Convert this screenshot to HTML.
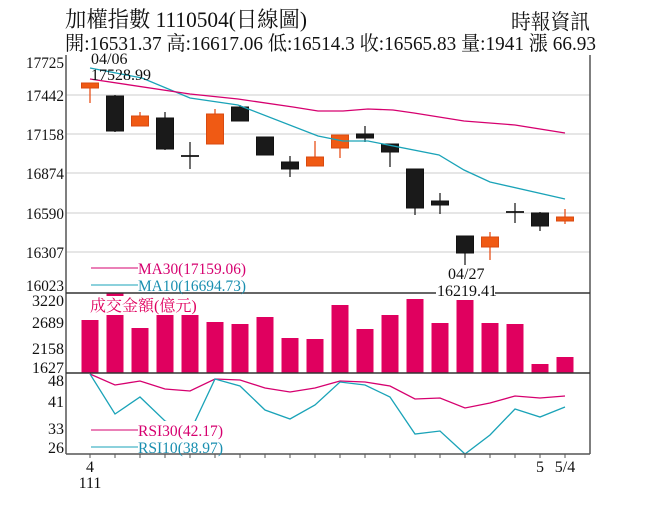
<!DOCTYPE html>
<html><head><meta charset="utf-8"><style>
html,body{margin:0;padding:0;background:#fff;width:656px;height:506px;overflow:hidden}
svg{display:block}
text{font-family:"Liberation Serif","Noto Serif CJK SC","Noto Sans CJK TC",serif}
</style></head><body>
<svg id="s" width="656" height="506" viewBox="0 0 656 506" xmlns="http://www.w3.org/2000/svg">
<rect width="656" height="506" fill="#fff"/>
<g stroke="#ddd" stroke-width="1.5">
<line x1="66" y1="95" x2="590" y2="95"/><line x1="66" y1="134" x2="590" y2="134"/>
<line x1="66" y1="173" x2="590" y2="173"/><line x1="66" y1="213" x2="590" y2="213"/>
<line x1="66" y1="252" x2="590" y2="252"/>
</g>
<g id="g"></g>
<g stroke="#555" stroke-width="1.5" fill="none">
<line x1="66" y1="55" x2="66" y2="454"/><line x1="590" y1="55" x2="590" y2="454"/>
<line x1="66" y1="293" x2="590" y2="293" stroke="#333"/>
<line x1="66" y1="373" x2="590" y2="373" stroke="#333"/>
<line x1="66" y1="454" x2="590" y2="454"/>
</g>
<g font-size="22" fill="#111">
<text x="65" y="27" textLength="242" lengthAdjust="spacingAndGlyphs">加權指數 1110504(日線圖)</text>
<text x="511" y="29" textLength="79" lengthAdjust="spacingAndGlyphs" font-size="21">時報資訊</text>
<text x="65" y="50" font-size="20" textLength="531" lengthAdjust="spacingAndGlyphs">開:16531.37 高:16617.06 低:16514.3 收:16565.83 量:1941 漲 66.93</text>
</g>
<g font-size="16" fill="#111" text-anchor="end">
<text x="64" y="68" textLength="38" lengthAdjust="spacingAndGlyphs">17725</text><text x="64" y="101" textLength="38" lengthAdjust="spacingAndGlyphs">17442</text><text x="64" y="140" textLength="38" lengthAdjust="spacingAndGlyphs">17158</text>
<text x="64" y="179" textLength="38" lengthAdjust="spacingAndGlyphs">16874</text><text x="64" y="219" textLength="38" lengthAdjust="spacingAndGlyphs">16590</text><text x="64" y="258" textLength="38" lengthAdjust="spacingAndGlyphs">16307</text>
<text x="64" y="291" textLength="38" lengthAdjust="spacingAndGlyphs">16023</text>
<text x="64" y="306">3220</text><text x="64" y="328">2689</text><text x="64" y="354">2158</text><text x="64" y="373">1627</text>
<text x="64" y="386">48</text><text x="64" y="407">41</text><text x="64" y="434">33</text><text x="64" y="453">26</text>
</g>
<g font-size="16" fill="#111">
<text x="91" y="64">04/06</text><text x="91" y="80">17528.99</text>
<text x="448" y="279">04/27</text>
<rect x="436" y="282" width="59" height="16" fill="#fff"/>
<text x="437" y="296">16219.41</text>
<text x="90" y="472" text-anchor="middle">4</text><text x="90" y="488" text-anchor="middle">111</text>
<text x="540" y="472" text-anchor="middle">5</text><text x="565" y="472" text-anchor="middle">5/4</text>
</g>
<rect x="137" y="259" width="110" height="33" fill="#fff"/>
<line x1="91" y1="268" x2="138" y2="268" stroke="#d6006f" stroke-width="1"/>
<line x1="91" y1="285" x2="138" y2="285" stroke="#1aa3b8" stroke-width="1"/>
<text x="138" y="274" font-size="16" fill="#d6006f" textLength="108" lengthAdjust="spacingAndGlyphs">MA30(17159.06)</text>
<text x="138" y="291" font-size="16" fill="#1a8fb0" textLength="108" lengthAdjust="spacingAndGlyphs">MA10(16694.73)</text>
<rect x="89" y="296" width="110" height="19" fill="#fff"/>
<text x="90" y="311" font-size="16" fill="#e0005f">成交金額(億元)</text>
<rect x="137" y="421" width="88" height="32" fill="#fff"/>
<line x1="91" y1="430" x2="138" y2="430" stroke="#d6006f" stroke-width="1"/>
<line x1="91" y1="447" x2="138" y2="447" stroke="#1aa3b8" stroke-width="1"/>
<text x="138" y="436" font-size="16" fill="#d6006f" textLength="85" lengthAdjust="spacingAndGlyphs">RSI30(42.17)</text>
<text x="138" y="453" font-size="16" fill="#1a8fb0" textLength="85" lengthAdjust="spacingAndGlyphs">RSI10(38.97)</text>
</svg>
<script>
var NS="http://www.w3.org/2000/svg",g=document.getElementById("g");
function el(t,a){var e=document.createElementNS(NS,t);for(var k in a)e.setAttribute(k,a[k]);g.appendChild(e);return e;}
var C=[["o",83,88,83,103],["b",96,131,95,132],["o",116,126,112,126],["b",118,149,112,150],["x",156,156,142,169],
["o",114,144,109,144],["b",107,121,105,121],["b",137,155,137,155],["b",162,169,156,177],["o",157,166,141,166],
["o",135,148,135,158],["b",134,138,126,142],["b",144,152,144,167],["b",169,208,169,215],["b",201,205,193,214],
["b",236,253,236,265],["o",237,247,232,260],["x",212,212,203,223],["b",213,226,212,231],["o",217,221,209,224]];
var V=[320,293,328,310,313,322,324,317,338,339,305,329,315,299,323,300,323,324,364,357];
V.forEach(function(t,i){var x=90+25*i;el("rect",{x:x-8.5,y:t,width:17,height:373-t,fill:"#e0005f"});});
C.forEach(function(c,i){var x=90+25*i;var col=c[0]=="o"?"#f05a14":"#1a1a1a";
el("line",{x1:x,y1:c[3],x2:x,y2:c[4],stroke:c[0]=="o"?"#e8501a":"#222","stroke-width":1.3});
if(c[0]=="x"){el("line",{x1:x-9,y1:c[1],x2:x+9,y2:c[1],stroke:"#111","stroke-width":1.8});}
else el("rect",{x:x-8.5,y:c[1],width:17,height:Math.max(c[2]-c[1],3),fill:col,stroke:c[0]=="o"?"#d84a10":"#111","stroke-width":1});});
function pl(p,col){el("polyline",{points:p,fill:"none",stroke:col,"stroke-width":1.3});}
pl("90,68 142,78 190,98 238,105 318,136 343,141 368,141 439,155 464,170 490,182 565,199","#1aa3b8");
pl("90,79 190,94 238,99 293,107 318,111 343,111 368,109 393,110 414,113 464,121 515,125 565,133","#d6006f");
var R3=[374,385,381,389,391,379,380,388,392,388,381,382,386,399,398,408,403,396,398,396];
var R1=[374,414,397,421,432,379,386,410,419,405,382,385,397,434,431,454,435,409,417,407];
pl(R3.map(function(y,i){return (90+25*i)+","+y}).join(" "),"#d6006f");
pl(R1.map(function(y,i){return (90+25*i)+","+y}).join(" "),"#1aa3b8");
for(var i=0;i<20;i++)el("line",{x1:90+25*i,y1:454,x2:90+25*i,y2:458,stroke:"#555","stroke-width":1});
</script>
</body></html>
